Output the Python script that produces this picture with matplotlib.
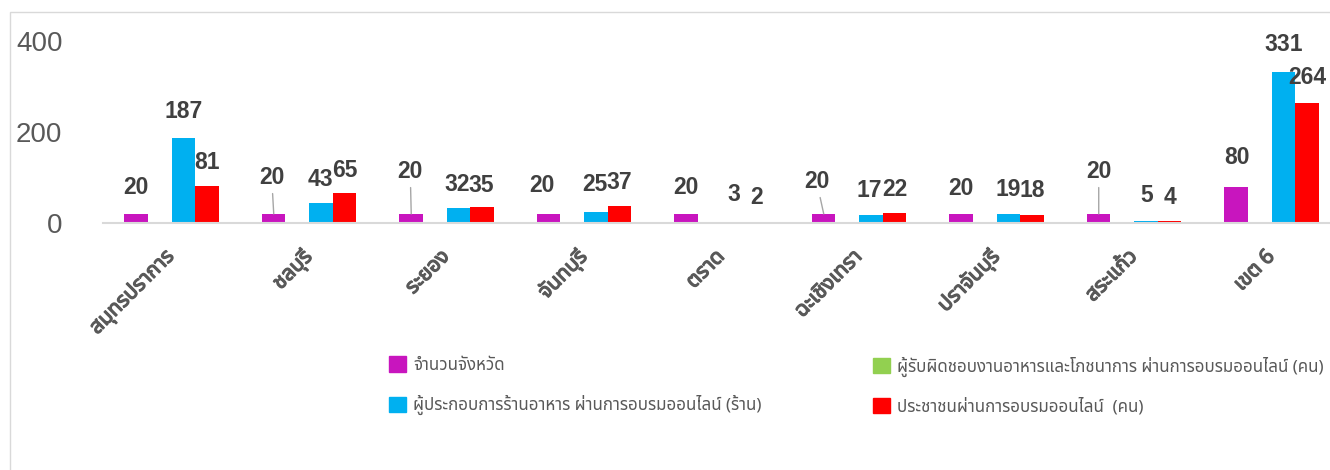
import matplotlib
matplotlib.use('Agg')
import matplotlib.pyplot as plt
import matplotlib.patheffects as pe
from matplotlib import font_manager
from matplotlib.ft2font import FT2Font
from matplotlib.patches import Patch, Rectangle
import numpy as np

# ข้อมูล
provinces = ['สมุทรปราการ', 'ชลบุรี', 'ระยอง', 'จันทบุรี', 'ตราด',
             'ฉะเชิงเทรา', 'ปราจันบุรี', 'สระแก้ว', 'เขต 6']
n_province = [20, 20, 20, 20, 20, 20, 20, 20, 80]
n_staff = [0, 0, 0, 0, 0, 0, 0, 0, 0]
n_shop = [187, 43, 32, 25, 3, 17, 19, 5, 331]
n_people = [81, 65, 35, 37, 2, 22, 18, 4, 264]
series_names = ['จำนวนจังหวัด',
                'ผู้รับผิดชอบงานอาหารและโภชนาการ ผ่านการอบรมออนไลน์ (คน)',
                'ผู้ประกอบการร้านอาหาร ผ่านการอบรมออนไลน์ (ร้าน)',
                'ประชาชนผ่านการอบรมออนไลน์  (คน)']
colors = ['#C815BE', '#92D050', '#00B0F0', '#FF0000']


def find_thai_font():
    # หาฟอนต์ที่มีอักษรไทย
    names = []
    for path in sorted(font_manager.findSystemFonts()):
        try:
            if 0x0E01 in FT2Font(path).get_charmap():
                names.append(font_manager.FontProperties(fname=path).get_name())
        except Exception:
            pass
    for pref in ['Noto Sans Thai', 'Noto Sans Thai UI', 'Loma', 'Garuda', 'Tlwg Typo']:
        if pref in names:
            return pref
    return names[0] if names else None


thai = find_thai_font()
families = ([thai] if thai else []) + ['DejaVu Sans']
plt.rcParams['font.family'] = families

fig = plt.figure(figsize=(13.3, 4.7), dpi=100)
ax = fig.add_axes([102.75 / 1330, 1 - 223 / 470, 9 * 137.5 / 1330, 182 / 470])

x = np.arange(len(provinces))
w = 0.171
all_series = [n_province, n_staff, n_shop, n_people]
for i, vals in enumerate(all_series):
    ax.bar(x + (i - 1.5) * w, vals, w, color=colors[i], linewidth=0)

ax.set_xlim(-0.5, len(provinces) - 0.5)
ax.set_ylim(0, 400)
ax.set_yticks([0, 200, 400])
ax.tick_params(axis='y', length=0, pad=29, labelsize=20, labelcolor='#595959')
for t in ax.get_yticklabels():
    t.set_family('Liberation Sans')
ax.set_xticks(x)
ax.set_xticklabels(provinces, rotation=45, ha='right', va='center',
                   rotation_mode='anchor', fontsize=15, fontweight='bold',
                   color='#595959')
for t in ax.get_xticklabels():
    t.set_path_effects([pe.withStroke(linewidth=0.9, foreground='#595959')])
ax.tick_params(axis='x', length=0, pad=22)
for s in ['top', 'right', 'left']:
    ax.spines[s].set_visible(False)
ax.spines['bottom'].set_color('#D9D9D9')
ax.spines['bottom'].set_linewidth(1.5)

# ตำแหน่งป้ายตัวเลข (เลื่อนจากยอดแท่ง, พิกเซล)
off_province = [(0, 26), (-2, 36), (-1, 42), (-7, 28), (0, 26), (-7, 32), (0, 25), (0, 42), (1, 29)]
off_shop = [(0, 26), (0, 24), (-1, 24), (-1, 27), (1, 27), (-2, 25), (0, 25), (1, 25), (0, 28)]
off_people = [(0, 24), (1, 23), (-1, 22), (0, 24), (0, 25), (1, 23), (0, 24), (1, 24), (1, 25)]
leader = [False, True, True, False, False, True, False, True, False]

lab_kw = dict(ha='center', va='center', fontsize=16.5, fontweight='bold',
              color='#404040', family='Liberation Sans', textcoords='offset pixels')
for j in range(len(provinces)):
    xp = x[j] - 1.5 * w
    ap = dict(arrowstyle='-', color='#A6A6A6', lw=1, shrinkA=1, shrinkB=0) if leader[j] else None
    ax.annotate(str(n_province[j]), (xp, n_province[j]), xytext=off_province[j],
                arrowprops=ap, **lab_kw)
    ax.annotate(str(n_shop[j]), (x[j] + 0.5 * w, n_shop[j]), xytext=off_shop[j], **lab_kw)
    ax.annotate(str(n_people[j]), (x[j] + 1.5 * w, n_people[j]), xytext=off_people[j], **lab_kw)

# กรอบแผนภูมิ
fig.patches.append(Rectangle((10 / 1330, -0.1), 1.2, 1.1 - 12 / 470, transform=fig.transFigure,
                             fill=False, edgecolor='#D9D9D9', linewidth=1))

handles = [Patch(color=c) for c in colors]
leg_kw = dict(frameon=False, fontsize=12.2, labelcolor='#595959', handlelength=1.0,
              handleheight=1.0, handletextpad=0.4, labelspacing=1.25, borderpad=0,
              loc='upper left')
leg1 = fig.legend([handles[0], handles[2]], [series_names[0], series_names[2]],
                  bbox_to_anchor=(381 / 1330, 1 - 348 / 470), **leg_kw)
leg2 = fig.legend([handles[1], handles[3]], [series_names[1], series_names[3]],
                  bbox_to_anchor=(865 / 1330, 1 - 348 / 470), **leg_kw)

fig.savefig('out.png', dpi=100)
